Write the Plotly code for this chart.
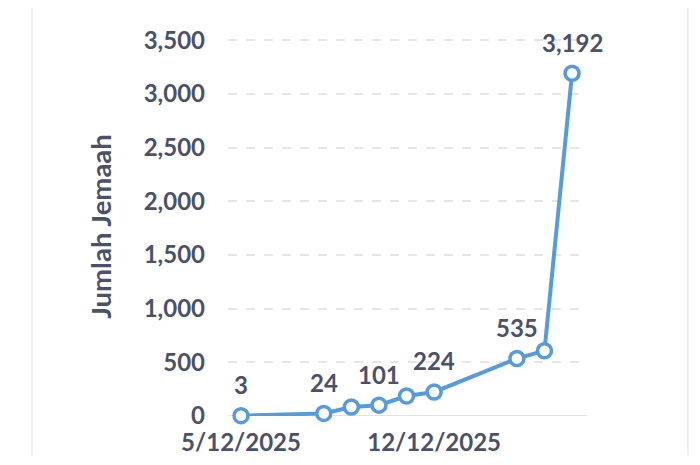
import plotly.graph_objects as go

dates = ["2025-12-05", "2025-12-08", "2025-12-09", "2025-12-10", "2025-12-11",
         "2025-12-12", "2025-12-15", "2025-12-16", "2025-12-17"]
values = [3, 24, 84, 101, 186, 224, 535, 608, 3192]
labels = ["3", "24", "", "101", "", "224", "535", "", "3,192"]
x_tick_vals = ["2025-12-05", "2025-12-12"]
x_tick_text = ["5/12/2025", "12/12/2025"]
y_tick_vals = [0, 500, 1000, 1500, 2000, 2500, 3000, 3500]

text_color = "#4a5169"
blue = "#559bde"
font_family = "Lato, 'Open Sans', sans-serif"

fig = go.Figure()
fig.add_trace(go.Scatter(
    x=dates, y=values, mode="lines+markers",
    line=dict(color=blue, width=4),
    marker=dict(symbol="circle", size=14, color="white", line=dict(color=blue, width=3.5)),
    cliponaxis=False, hoverinfo="skip",
))

annotations = [
    dict(x=d, y=v, text=t, showarrow=False, yshift=31, xref="x", yref="y",
         font=dict(family=font_family, size=24, color=text_color, weight=700))
    for d, v, t in zip(dates, values, labels) if t
]

fig.update_layout(
    width=700, height=465,
    margin=dict(l=220, r=121, t=29, b=57, autoexpand=False),
    paper_bgcolor="white", plot_bgcolor="white",
    showlegend=False,
    font=dict(family=font_family, color=text_color),
    annotations=annotations,
    xaxis=dict(
        type="date", automargin=False,
        range=["2025-12-04 12:40", "2025-12-17 13:00"],
        tickvals=x_tick_vals, ticktext=x_tick_text,
        tickfont=dict(size=24, color=text_color, weight=700),
        showgrid=False, zeroline=False, showline=False,
        ticks="", ticklabelstandoff=10,
    ),
    yaxis=dict(
        range=[0, 3530], automargin=False,
        tickvals=y_tick_vals, tickformat=",d",
        tickfont=dict(size=24, color=text_color, weight=700),
        showgrid=True, gridcolor="#e6e6e6", griddash="dash", gridwidth=1.5,
        zeroline=False, showline=False, ticks="", ticklabelstandoff=22,
        title=dict(text="Jumlah Jemaah", standoff=24,
                   font=dict(size=27.5, color=text_color, weight=700)),
    ),
    shapes=[
        dict(type="line", xref="paper", yref="y", x0=0, x1=1, y0=0, y1=0,
             line=dict(color="#e3e3e3", width=2), layer="below"),
        dict(type="line", xref="paper", yref="paper", x0=-0.546, x1=-0.546, y0=-0.104, y1=1.08,
             line=dict(color="#eeeeee", width=2)),
        dict(type="line", xref="paper", yref="paper", x0=1.281, x1=1.281, y0=-0.104, y1=1.08,
             line=dict(color="#eeeeee", width=2)),
    ],
)

fig.write_html("out.html")
